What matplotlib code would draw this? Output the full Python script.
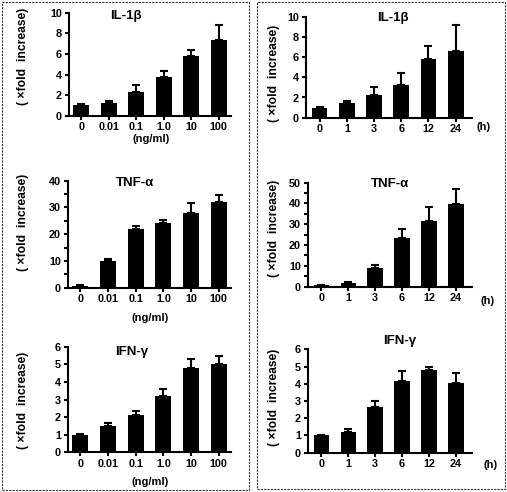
import matplotlib.pyplot as plt
from matplotlib.patches import Rectangle
from matplotlib.ticker import MultipleLocator

plt.rcParams['font.family'] = ['Liberation Sans', 'DejaVu Sans']
plt.rcParams['font.weight'] = 'bold'

W, H = 507, 492

dose_labels = ['0', '0.01', '0.1', '1.0', '10', '100']
time_labels = ['0', '1', '3', '6', '12', '24']

# dose response (left column)
il1b_dose = [1.05, 1.3, 2.35, 3.8, 5.8, 7.4]
il1b_dose_err = [0.08, 0.15, 0.65, 0.6, 0.55, 1.4]
tnfa_dose = [0.7, 10, 22, 24, 28, 32]
tnfa_dose_err = [0.3, 0.8, 0.9, 1.4, 3.8, 2.8]
ifng_dose = [1.0, 1.5, 2.1, 3.22, 4.8, 5.0]
ifng_dose_err = [0.03, 0.15, 0.27, 0.35, 0.52, 0.48]

# time course (right column)
il1b_time = [1.0, 1.5, 2.2, 3.2, 5.8, 6.6]
il1b_time_err = [0.07, 0.12, 0.8, 1.25, 1.3, 2.55]
tnfa_time = [0.7, 1.6, 8.8, 23.2, 31.7, 39.7]
tnfa_time_err = [0.3, 0.5, 1.6, 4.7, 6.8, 7.4]
ifng_time = [1.0, 1.2, 2.63, 4.15, 4.8, 4.05]
ifng_time_err = [0.03, 0.17, 0.39, 0.58, 0.15, 0.6]


def fx(x):
    return x / W


def fy(y):
    return 1 - y / H


def add_ax(fig, x0, yt, x1, yb):
    return fig.add_axes([fx(x0), fy(yb), (x1 - x0) / W, (yb - yt) / H])


def draw_panel(ax, vals, errs, labels, ymax, ystep, minor, xlim):
    xs = range(len(vals))
    ax.bar(xs, vals, width=0.58, color='black')
    ax.errorbar(xs, vals, yerr=[[0] * len(errs), errs], fmt='none',
                ecolor='black', elinewidth=1.5, capsize=3.2, capthick=1.5)
    ax.set_xlim(*xlim)
    ax.set_ylim(0, ymax)
    ax.set_yticks(range(0, ymax + 1, ystep))
    if minor:
        ax.yaxis.set_minor_locator(MultipleLocator(minor))
    ax.set_xticks(list(xs))
    ax.set_xticklabels(labels)
    for s in ['top', 'right']:
        ax.spines[s].set_visible(False)
    for s in ['left', 'bottom']:
        ax.spines[s].set_linewidth(1.5)
    ax.tick_params(which='both', direction='out', length=3, width=1.5,
                   labelsize=7.8, pad=2)
    ax.tick_params(axis='x', pad=1.5)
    for lab in ax.get_xticklabels() + ax.get_yticklabels():
        lab.set_fontweight('bold')


fig = plt.figure(figsize=(W / 100, H / 100), dpi=100)

# dashed frames
for x0, y0, x1, y1 in [(2, 2, 249, 490), (257, 2, 505, 489)]:
    fig.patches.append(Rectangle((fx(x0), fy(y1)), (x1 - x0) / W, (y1 - y0) / H,
                                 transform=fig.transFigure, fill=False,
                                 edgecolor='#333333', linewidth=0.8,
                                 linestyle=(0, (2, 1))))

left_lim = (-0.45, 5.45)
right_lim = (-0.5, 5.6)

ax = add_ax(fig, 69, 12.7, 231, 116)
draw_panel(ax, il1b_dose, il1b_dose_err, dose_labels, 10, 2, None, left_lim)
ax = add_ax(fig, 68, 180.7, 231, 287.7)
draw_panel(ax, tnfa_dose, tnfa_dose_err, dose_labels, 40, 10, 5, left_lim)
ax = add_ax(fig, 68, 346.7, 231, 452.3)
draw_panel(ax, ifng_dose, ifng_dose_err, dose_labels, 6, 1, None, left_lim)

ax = add_ax(fig, 306, 16.7, 472, 117.7)
draw_panel(ax, il1b_time, il1b_time_err, time_labels, 10, 2, None, right_lim)
ax = add_ax(fig, 308, 182.7, 472, 286.7)
draw_panel(ax, tnfa_time, tnfa_time_err, time_labels, 50, 10, 5, right_lim)
ax = add_ax(fig, 308, 349.3, 472, 452.7)
draw_panel(ax, ifng_time, ifng_time_err, time_labels, 6, 1, None, right_lim)

# panel titles
for t, x, y in [('IL-1β', 126, 16), ('TNF-α', 135, 183), ('IFN-γ', 132, 352),
                ('IL-1β', 393, 18), ('TNF-α', 390, 184), ('IFN-γ', 400, 341)]:
    fig.text(fx(x), fy(y), t, ha='center', va='center', fontsize=9.5,
             fontweight='bold')

# y labels
ylab = '( ×fold  increase)'
for x, y in [(23, 56), (23, 222), (23, 400), (274, 73), (274, 228), (274, 397)]:
    fig.text(fx(x), fy(y), ylab, rotation=90, ha='center', va='center',
             fontsize=8.7, fontweight='bold')

# x unit labels
for t, x, y in [('(ng/ml)', 151, 139), ('(ng/ml)', 150, 318), ('(ng/ml)', 150, 482),
                ('(h)', 484, 127), ('(h)', 488, 301), ('(h)', 491, 465)]:
    fig.text(fx(x), fy(y), t, ha='center', va='center', fontsize=8,
             fontweight='bold')

fig.savefig('out.png', dpi=100)
